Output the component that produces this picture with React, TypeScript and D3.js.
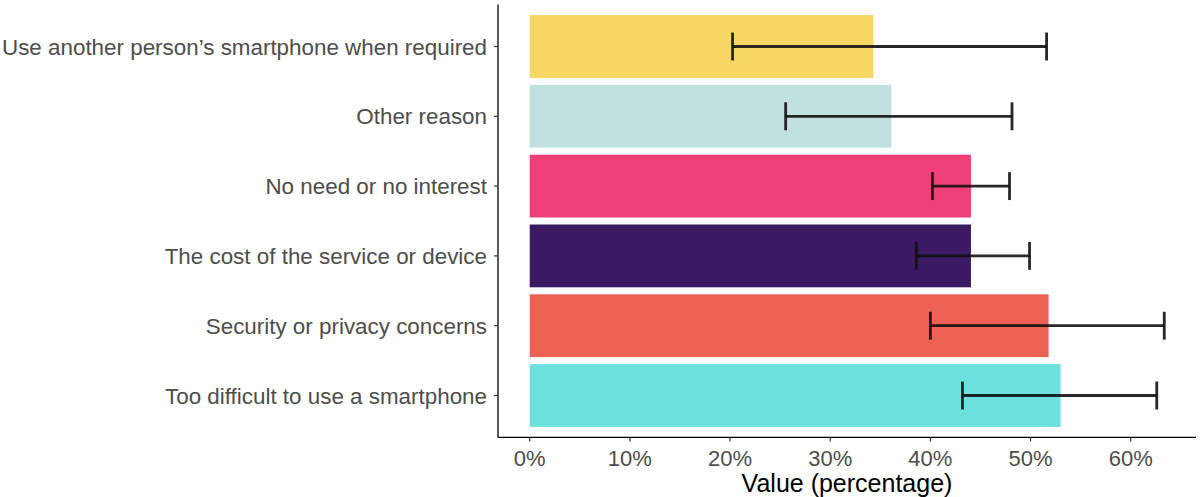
import React from "react";
import * as d3 from "d3";

const categories = [
  "Use another person’s smartphone when required",
  "Other reason",
  "No need or no interest",
  "The cost of the service or device",
  "Security or privacy concerns",
  "Too difficult to use a smartphone",
];
const values = [34.3, 36.1, 44.05, 44.05, 51.8, 53.0];
const lower = [20.25, 25.55, 40.2, 38.6, 40.0, 43.2];
const upper = [51.6, 48.15, 47.9, 49.9, 63.35, 62.6];
const colors = ["#F8D664", "#C1E1E0", "#EE3F77", "#3A1A62", "#EC6151", "#6CE1DE"];
const xTicks = [0, 10, 20, 30, 40, 50, 60];

export default function App() {
  const W = 1200, H = 497;
  const left = 498, right = 1196, top = 4.6, bottom = 437.4;
  const maxV = d3.max(upper)!;
  const pad = maxV * 0.05;
  const x = d3.scaleLinear().domain([-pad, maxV + pad]).range([left, right]);
  const n = categories.length;
  const step = (bottom - top) / (n - 1 + 1.2);
  const cy = (i: number) => top + 0.6 * step + i * step;
  const bh = 0.9 * step;
  const capH = 0.4 * step;
  return (
    <svg width={W} height={H} style={{ position: "absolute", left: 0, top: 0, fontFamily: "Liberation Sans, Arial, sans-serif" }}>
      <rect width={W} height={H} fill="#fff" />
      {categories.map((c, i) => (
        <rect key={c} x={x(0)} y={cy(i) - bh / 2} width={x(values[i]) - x(0)} height={bh} fill={colors[i]} />
      ))}
      {categories.map((c, i) => (
        <g key={"e" + c} stroke="#111" strokeWidth={2.8} strokeOpacity={0.9}>
          <line x1={x(lower[i])} x2={x(upper[i])} y1={cy(i)} y2={cy(i)} />
          <line x1={x(lower[i])} x2={x(lower[i])} y1={cy(i) - capH / 2} y2={cy(i) + capH / 2} />
          <line x1={x(upper[i])} x2={x(upper[i])} y1={cy(i) - capH / 2} y2={cy(i) + capH / 2} />
        </g>
      ))}
      <line x1={left} x2={left} y1={top} y2={bottom} stroke="#000" strokeWidth={1.3} />
      <line x1={left} x2={right} y1={bottom} y2={bottom} stroke="#000" strokeWidth={1.3} />
      {categories.map((c, i) => (
        <g key={"t" + c}>
          <line x1={left - 4} x2={left} y1={cy(i)} y2={cy(i)} stroke="#333" strokeWidth={1.2} />
          <text x={left - 11} y={cy(i)} dy="0.36em" textAnchor="end" fontSize={22.4} fill="#4D4D4D">{c}</text>
        </g>
      ))}
      {xTicks.map((t) => (
        <g key={"x" + t}>
          <line x1={x(t)} x2={x(t)} y1={bottom} y2={bottom + 4} stroke="#333" strokeWidth={1.2} />
          <text x={x(t)} y={466} textAnchor="middle" fontSize={22} fill="#4D4D4D">{t}%</text>
        </g>
      ))}
      <text x={(left + right) / 2} y={492} textAnchor="middle" fontSize={25} fill="#000">Value (percentage)</text>
    </svg>
  );
}
